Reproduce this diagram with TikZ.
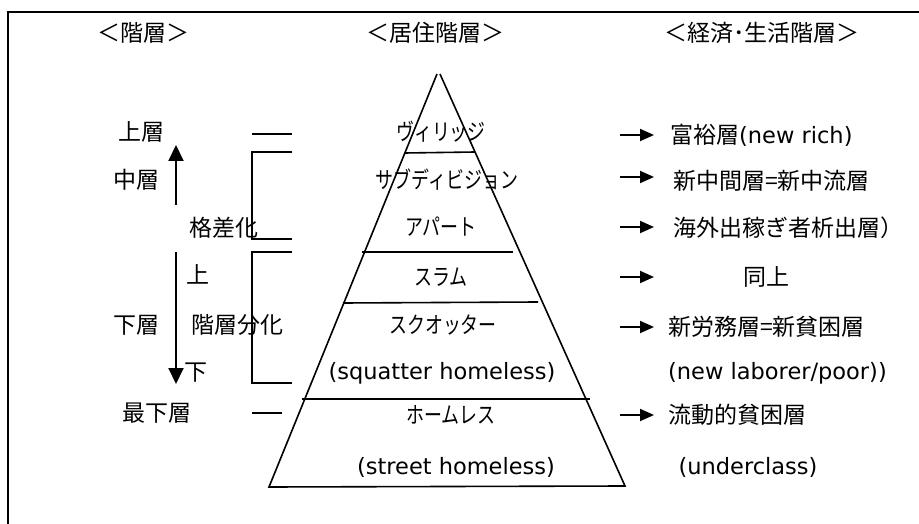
\documentclass[tikz,border=0pt]{standalone}
\usepackage{fontspec}
\setmainfont{Noto Sans CJK JP}
\newfontfamily\kana[FakeStretch=0.78]{Noto Sans CJK JP}
\newfontfamily\lat{DejaVu Sans}
\usetikzlibrary{arrows.meta}
\begin{document}
\begin{tikzpicture}[x=1pt,y=-1pt,
  txt/.style={inner sep=0pt, font=\fontsize{23}{28}\selectfont},
  ktxt/.style={inner sep=0pt, font=\fontsize{23}{28}\selectfont\kana},
  ltxt/.style={inner sep=0pt, font=\fontsize{22.5}{28}\selectfont\lat},
  rtxt/.style={txt, anchor=west},
  frame/.style={line width=2pt},
  pyr/.style={line width=1.6pt},
  brk/.style={line width=1.5pt},
  rarr/.style={line width=2pt, -{Triangle[length=14pt,width=12pt]}},
  varr/.style={line width=2pt, -{Triangle[length=16pt,width=15pt]}}]
\useasboundingbox (0,0) rectangle (919,524);
\fill[white] (0,0) rectangle (919,524);
% frame (cut at right and bottom)
\draw[frame] (8,524) -- (8,12) -- (919,12);

% headings
\node[txt] (h1) at (143,33) {＜階層＞};
\node[txt] (h2) at (435,33) {＜居住階層＞};
\node[txt] (h3) at (762,33) {＜経済･生活階層＞};

% pyramid
\coordinate (apl) at (437,74);
\coordinate (apr) at (440,74);
\coordinate (bl) at (269,487);
\coordinate (br) at (625,486);
\draw[pyr] (apl) -- (bl) -- (br) -- (apr);
\draw[pyr] (405,153) -- (475,152);
\draw[pyr] (362,252) -- (513,252);
\draw[pyr] (343,303) -- (538,302);
\draw[pyr] (302,399) -- (590,399);

% pyramid labels
\node[ktxt] (p1) at (441,132) {ヴィリッジ};
\node[ktxt] (p2) at (447,180) {サブディビジョン};
\node[ktxt] (p3) at (441,227) {アパート};
\node[ktxt] (p4) at (441,277) {スラム};
\node[ktxt] (p5) at (443,325) {スクオッター};
\node[ltxt] (p6) at (442,373) {(squatter homeless)};
\node[ktxt] (p7) at (451,415) {ホームレス};
\node[ltxt] (p8) at (456,467) {(street homeless)};

% left labels
\node[txt] (l1) at (141,132) {上層};
\node[txt] (l2) at (136,180) {中層};
\node[txt] (l3) at (224,228) {格差化};
\node[txt] (l4) at (198,274) {上};
\node[txt] (l5) at (136,325) {下層};
\node[txt] (l6) at (237,325) {階層分化};
\node[txt] (l7) at (196,373) {下};
\node[txt] (l8) at (157,413) {最下層};

% dashes and brackets
\draw[brk] (252,134) -- (292,134);
\draw[brk] (292,152) -- (252,152) -- (252,239) -- (292,239);
\draw[brk] (292,252) -- (252,252) -- (252,383) -- (292,383);
\draw[brk] (252,413) -- (282,413);

% vertical arrows
\coordinate (u0) at (176,205);
\coordinate (u1) at (176,145);
\coordinate (d0) at (176,252);
\coordinate (d1) at (176,384);
\draw[varr] (u0) -- (u1);
\draw[varr] (d0) -- (d1);

% right labels
\node[rtxt] (r1) at (670,135) {富裕層{\lat\fontsize{22.5}{28}\selectfont(new rich)}};
\node[rtxt] (r2) at (673,181) {新中間層=新中流層};
\node[rtxt] (r3) at (673,228) {海外出稼ぎ者析出層）};
\node[txt] (r4) at (766,277) {同上};
\node[rtxt] (r5) at (668,327) {新労務層=新貧困層};
\node[ltxt, anchor=west] (r6) at (668,373) {(new laborer/poor))};
\node[rtxt] (r7) at (668,415) {流動的貧困層};
\node[ltxt] (r8) at (748,467) {(underclass)};

% right arrows
\foreach \n/\y in {1/135,2/177,3/227,4/277,5/327,6/415}{
  \coordinate (a\n) at (620,\y);
  \draw[rarr] (a\n) -- ++(34,0);
}
\end{tikzpicture}
\end{document}
